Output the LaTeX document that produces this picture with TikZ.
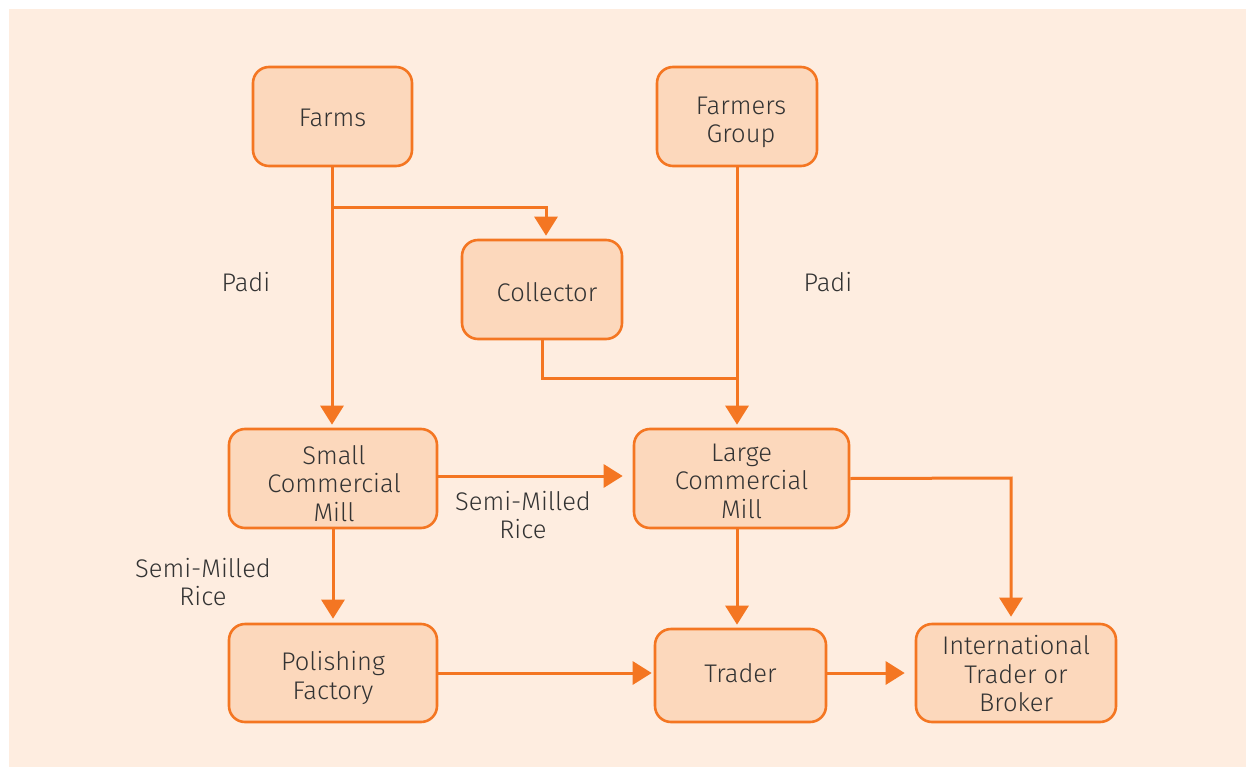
\documentclass[tikz,border=0pt]{standalone}
\usepackage{fontspec}
\setmainfont{Fira Sans Light}
\usetikzlibrary{arrows.meta}
\definecolor{bgpeach}{HTML}{FEEDE0}
\definecolor{boxfill}{HTML}{FCD8BC}
\definecolor{flow}{HTML}{F47622}
\definecolor{ink}{HTML}{333333}
\tikzset{
  stage/.style={draw=flow, fill=boxfill, line width=2.6pt, rounded corners=16pt, inner sep=0pt},
  caption/.style={text=ink, align=center, inner sep=0pt, font=\fontsize{25.5}{28.5}\selectfont},
  link/.style={draw=flow, line width=3pt},
  arr/.style={link, -{Triangle[width=23pt,length=19pt]}}
}
\begin{document}
\begin{tikzpicture}[x=1pt,y=-1pt]
\useasboundingbox (0,0) rectangle (1246,767);
\fill[bgpeach] (9,9) rectangle (1246,767);

% boxes of the supply chain
\node[stage, minimum width=159pt, minimum height=99pt] (farms) at (332.5,116.5) {};
\node[stage, minimum width=160pt, minimum height=99pt] (fgroup) at (737,116.5) {};
\node[stage, minimum width=160pt, minimum height=99pt] (coll) at (542,289.5) {};
\node[stage, minimum width=208pt, minimum height=99pt] (scm) at (333,478.5) {};
\node[stage, minimum width=215pt, minimum height=99pt] (lcm) at (741.5,478.5) {};
\node[stage, minimum width=208pt, minimum height=98pt] (pf) at (333,673) {};
\node[stage, minimum width=171pt, minimum height=93pt] (trader) at (740.5,675.5) {};
\node[stage, minimum width=200pt, minimum height=98pt] (itb) at (1016,673) {};

% box captions
\node[caption] (farms-t) at (332.5,118) {Farms};
\node[caption] (fgroup-t) at (741,122.5) {Farmers\\Group};
\node[caption] (coll-t) at (547,292) {Collector};
\node[caption] (scm-t) at (334,483.5) {Small\\Commercial\\Mill};
\node[caption] (lcm-t) at (741.5,481) {Large\\Commercial\\Mill};
\node[caption] (pf-t) at (333,678) {Polishing\\Factory};
\node[caption] (trader-t) at (740.5,673) {Trader};
\node[caption] (itb-t) at (1016,674) {International\\Trader or\\Broker};

% junction points of the flows
\coordinate (fj) at (332,208);
\coordinate (cj) at (737,378);
\coordinate (lj) at (1011,478);

% flows
\draw[arr, shorten >=3pt] (farms.south -| fj) -- (fj |- scm.north);
\draw[arr, shorten >=3pt] (fj) -| ([xshift=4pt]coll.north);
\draw[arr, shorten >=3pt] (fgroup.south -| cj) -- (cj |- lcm.north);
\draw[link] (coll.south) |- (cj);
\draw[arr, shorten >=10pt] (scm.east |- 0,476) -- (lcm.west |- 0,476);
\draw[arr, shorten >=6pt] (lcm.east) -- (lj) -- (lj |- itb.north);
\draw[arr, shorten >=3pt] (lcm.south -| cj) -- (cj |- trader.north);
\draw[arr, shorten >=4pt] (scm.south) -- (pf.north);
\draw[arr, shorten >=2pt] (pf.east) -- (pf.east -| trader.west);
\draw[arr, shorten >=10pt] (trader.east |- pf.east) -- (itb.west |- pf.east);

% flow labels
\node[caption] (padi1) at (246,282) {Padi};
\node[caption] (padi2) at (828,282) {Padi};
\node[caption] (smr1) at (523,515) {Semi-Milled\\Rice};
\node[caption] (smr2) at (203,582) {Semi-Milled\\Rice};
\end{tikzpicture}
\end{document}
